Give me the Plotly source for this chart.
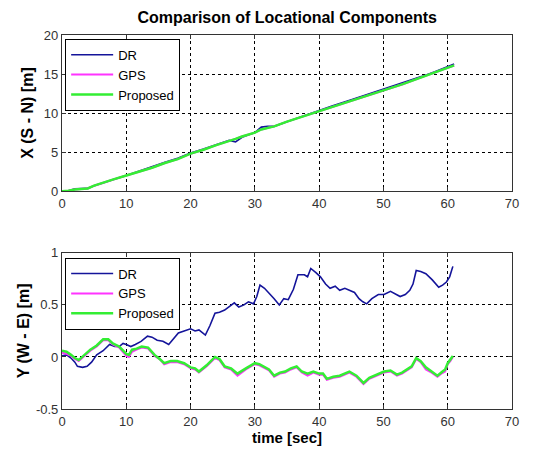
import plotly.graph_objects as go
from plotly.subplots import make_subplots

# ---- X (S - N) component ----
t_x = [0, 1, 2, 3, 4, 5, 6, 8, 10, 12, 14, 16, 18, 20, 22, 24, 26, 27, 28, 30, 31, 32, 33, 35, 38, 40, 42, 45, 48, 50, 53, 56, 58, 61]
x_dr = [0.0, 0.05, 0.3, 0.3, 0.35, 0.7, 1.0, 1.5, 2.0, 2.6, 3.1, 3.7, 4.2, 4.9, 5.4, 6.0, 6.5, 6.3, 6.9, 7.5, 8.2, 8.3, 8.3, 8.9, 9.8, 10.3, 10.9, 11.7, 12.5, 13.0, 13.8, 14.7, 15.3, 16.3]
x_gps = [0.0, 0.05, 0.2, 0.3, 0.35, 0.7, 1.0, 1.5, 2.0, 2.5, 3.0, 3.6, 4.1, 4.8, 5.3, 5.9, 6.4, 6.7, 7.0, 7.5, 7.9, 8.1, 8.3, 8.9, 9.7, 10.2, 10.8, 11.6, 12.4, 12.9, 13.7, 14.6, 15.2, 16.1]
x_prop = [0.0, 0.05, 0.2, 0.3, 0.35, 0.7, 1.0, 1.5, 2.0, 2.5, 3.0, 3.6, 4.1, 4.8, 5.3, 5.9, 6.4, 6.7, 7.0, 7.5, 7.9, 8.1, 8.3, 8.9, 9.7, 10.2, 10.8, 11.6, 12.4, 12.9, 13.7, 14.6, 15.2, 16.1]

# ---- Y (W - E) component ----
t_dr = [0, 0.7, 1.4, 2.0, 2.4, 3.2, 3.9, 4.6, 5.4, 6.4, 7.4, 8.2, 8.9, 9.5, 10, 10.7, 11.4, 12.3, 13.3, 14.0, 14.8, 15.7, 16.6, 17.3, 18.1, 19.0, 20, 20.7, 21.3, 22.3, 23.0, 23.8, 24.5, 25.3, 26.0, 26.8, 27.5, 28.3, 29.0, 29.8, 30.3, 30.8, 31.5, 32.3, 33.0, 33.8, 34.5, 35.2, 36.0, 36.7, 37.7, 38.2, 38.7, 39.5, 40.2, 41.0, 41.7, 42.5, 43.2, 44.0, 44.7, 45.5, 46.2, 46.8, 47.4, 48.2, 49.2, 50.1, 51.1, 51.8, 52.6, 53.4, 54.1, 54.6, 55.1, 55.8, 56.6, 57.6, 58.6, 59.2, 59.8, 60.3, 60.8]
y_dr = [0.01, 0.02, -0.01, -0.05, -0.09, -0.10, -0.09, -0.05, 0.02, 0.06, 0.12, 0.10, 0.10, 0.13, 0.12, 0.10, 0.12, 0.15, 0.20, 0.19, 0.16, 0.15, 0.12, 0.17, 0.23, 0.25, 0.27, 0.25, 0.26, 0.21, 0.30, 0.42, 0.43, 0.45, 0.48, 0.52, 0.48, 0.50, 0.53, 0.51, 0.58, 0.69, 0.66, 0.61, 0.56, 0.50, 0.56, 0.55, 0.65, 0.79, 0.79, 0.77, 0.85, 0.81, 0.77, 0.70, 0.66, 0.68, 0.64, 0.66, 0.64, 0.62, 0.56, 0.53, 0.51, 0.56, 0.60, 0.60, 0.63, 0.61, 0.58, 0.60, 0.64, 0.70, 0.83, 0.82, 0.80, 0.74, 0.67, 0.69, 0.72, 0.77, 0.87]

t_y = [0, 0.7, 1.4, 2.0, 2.6, 3.5, 4.4, 5.4, 6.4, 7.2, 7.9, 8.9, 10, 10.4, 10.9, 11.6, 12.4, 13.4, 14.4, 15.2, 15.9, 16.9, 17.9, 19.0, 20, 20.7, 21.3, 22.5, 23.8, 24.5, 25.3, 26.3, 27.3, 28.6, 30, 30.7, 31.3, 32.2, 33, 33.9, 34.7, 35.6, 36.5, 37.3, 38.2, 39.1, 40, 40.6, 41.2, 42.2, 43.2, 44.0, 44.7, 45.8, 46.9, 47.8, 48.6, 49.4, 50.1, 51.1, 52.1, 52.9, 53.6, 54.4, 55.1, 55.8, 56.6, 57.5, 58.4, 59.0, 59.6, 60.0, 60.4, 60.8]
y_gps = [0.04, 0.03, 0.01, -0.02, -0.04, 0.01, 0.06, 0.10, 0.16, 0.16, 0.12, 0.09, 0.01, 0.00, 0.05, 0.07, 0.09, 0.08, 0.01, -0.02, -0.07, -0.05, -0.05, -0.07, -0.11, -0.12, -0.15, -0.09, -0.01, -0.03, -0.10, -0.12, -0.18, -0.12, -0.07, -0.08, -0.10, -0.13, -0.19, -0.16, -0.15, -0.12, -0.10, -0.15, -0.18, -0.15, -0.17, -0.17, -0.22, -0.20, -0.19, -0.17, -0.15, -0.19, -0.26, -0.21, -0.19, -0.17, -0.15, -0.14, -0.18, -0.16, -0.13, -0.10, -0.02, -0.05, -0.12, -0.15, -0.19, -0.16, -0.14, -0.07, -0.04, 0.00]
y_prop = [0.06, 0.05, 0.02, -0.01, -0.03, 0.02, 0.07, 0.11, 0.17, 0.17, 0.13, 0.10, 0.03, 0.02, 0.07, 0.08, 0.10, 0.09, 0.02, -0.02, -0.06, -0.04, -0.04, -0.06, -0.10, -0.11, -0.14, -0.08, 0.00, -0.02, -0.09, -0.11, -0.16, -0.11, -0.06, -0.07, -0.09, -0.12, -0.18, -0.15, -0.14, -0.11, -0.09, -0.14, -0.16, -0.14, -0.16, -0.16, -0.21, -0.19, -0.18, -0.16, -0.14, -0.18, -0.25, -0.20, -0.18, -0.16, -0.14, -0.13, -0.17, -0.15, -0.12, -0.09, -0.01, -0.04, -0.10, -0.14, -0.18, -0.15, -0.12, -0.06, -0.03, 0.01]

x_ticks = [0, 10, 20, 30, 40, 50, 60, 70]
top_ticks = [0, 5, 10, 15, 20]
bot_ticks = [-0.5, 0, 0.5, 1]
bot_labels = ["-0.5", "0", "0.5", "1"]

C_DR = "#14149a"
C_GPS = "#ff33ff"
C_PROP = "#33ee33"
FONT = "Arial, Liberation Sans"

fig = make_subplots(rows=2, cols=1, vertical_spacing=0.165)

fig.add_trace(go.Scatter(x=t_x, y=x_dr, mode="lines", name="DR", line=dict(color=C_DR, width=1.6), legend="legend"), row=1, col=1)
fig.add_trace(go.Scatter(x=t_x, y=x_gps, mode="lines", name="GPS", line=dict(color=C_GPS, width=2), legend="legend"), row=1, col=1)
fig.add_trace(go.Scatter(x=t_x, y=x_prop, mode="lines", name="Proposed", line=dict(color=C_PROP, width=2.5), legend="legend"), row=1, col=1)

fig.add_trace(go.Scatter(x=t_dr, y=y_dr, mode="lines", name="DR", line=dict(color=C_DR, width=1.6), legend="legend2"), row=2, col=1)
fig.add_trace(go.Scatter(x=t_y, y=y_gps, mode="lines", name="GPS", line=dict(color=C_GPS, width=2), legend="legend2"), row=2, col=1)
fig.add_trace(go.Scatter(x=t_y, y=y_prop, mode="lines", name="Proposed", line=dict(color=C_PROP, width=2.5), legend="legend2"), row=2, col=1)

axis_common = dict(showline=True, linecolor="#333333", linewidth=1.2, mirror="ticks",
                   ticks="inside", ticklen=4, tickcolor="#333333",
                   showgrid=True, gridcolor="black", griddash="3px,3px", gridwidth=1,
                   zeroline=False, tickfont=dict(family=FONT, size=13, color="#333333"))

fig.update_xaxes(range=[0, 70], tickvals=x_ticks, **axis_common)
fig.update_yaxes(**axis_common)
fig.update_yaxes(range=[0, 20], tickvals=top_ticks, row=1, col=1,
                 title=dict(text="<b>X (S - N) [m]</b>", font=dict(family=FONT, size=16, color="black"), standoff=6))
fig.update_yaxes(range=[-0.5, 1], tickvals=bot_ticks, ticktext=bot_labels, row=2, col=1,
                 title=dict(text="<b>Y (W - E) [m]</b>", font=dict(family=FONT, size=16, color="black"), standoff=2))
fig.update_xaxes(row=2, col=1,
                 title=dict(text="<b>time [sec]</b>", font=dict(family=FONT, size=15, color="black"), standoff=3))

fig.update_layout(
    width=544, height=454,
    margin=dict(l=62, r=32, t=35, b=43),
    paper_bgcolor="white", plot_bgcolor="white",
    title=dict(text="<b>Comparison of Locational Components</b>", x=0.528, xanchor="center", y=0.962, yanchor="middle",
               font=dict(family=FONT, size=16, color="black")),
    legend=dict(x=0.007, y=0.99, xanchor="left", yanchor="top", bordercolor="black", borderwidth=1,
                bgcolor="white", font=dict(family=FONT, size=13, color="black"),
                tracegroupgap=0, itemwidth=42),
    legend2=dict(x=0.007, y=0.405, xanchor="left", yanchor="top", bordercolor="black", borderwidth=1,
                 bgcolor="white", font=dict(family=FONT, size=13, color="black"),
                 tracegroupgap=0, itemwidth=42),
    showlegend=True,
)

fig.write_html("out.html")
